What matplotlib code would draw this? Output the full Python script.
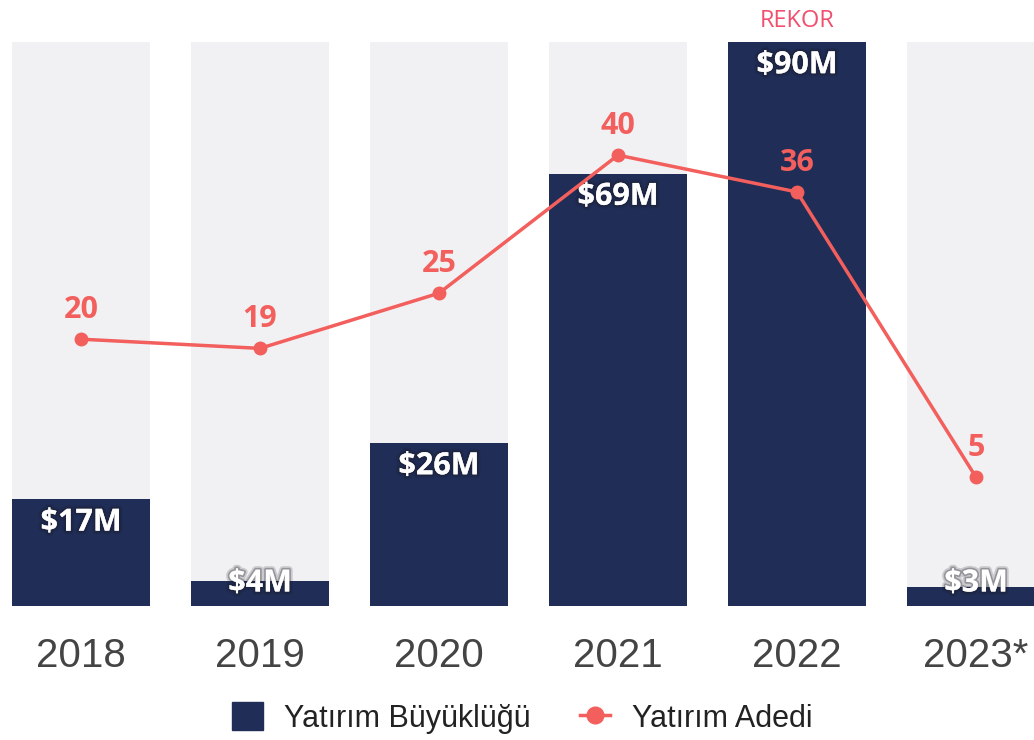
import numpy as np
import matplotlib
matplotlib.use("Agg")
import matplotlib.pyplot as plt
import matplotlib.patheffects as pe
from matplotlib.lines import Line2D
from matplotlib.patches import Patch

years = ["2018", "2019", "2020", "2021", "2022", "2023*"]
size_musd = [17, 4, 26, 69, 90, 3]
size_labels = ["$17M", "$4M", "$26M", "$69M", "$90M", "$3M"]
deal_count = [20, 19, 25, 40, 36, 5]

navy = "#1f2d57"
red = "#f25f5c"
bg_gray = "#f1f1f4"

fig = plt.figure(figsize=(10.34, 7.4), dpi=100)
ax = fig.add_axes([0, 134 / 740, 1, 564 / 740])
x = np.arange(len(years))
w = 138 / 179

ax.bar(x, [90] * len(x), width=w, color=bg_gray, zorder=1)
ax.bar(x, size_musd, width=w, color=navy, zorder=2)
ax.set_xlim(-81 / 179, (1034 - 81) / 179)
ax.set_ylim(0, 90)
ax.axis("off")

# soft dark halo behind the white labels
shadow = [pe.withStroke(linewidth=5, foreground=(0.1, 0.1, 0.15, 0.18)),
          pe.withStroke(linewidth=2.5, foreground=(0.1, 0.1, 0.15, 0.3))]
for xi, v, lab in zip(x, size_musd, size_labels):
    ax.text(xi, max(v - 3.7, 3.6), lab, ha="center", va="center",
            fontsize=22, fontweight="bold", family="Open Sans",
            color="white", zorder=5, path_effects=shadow)

for xi, lab in zip(x, years):
    ax.text(xi, -7.9, lab, ha="center", va="center", fontsize=29,
            family="Liberation Sans", color="#444444", clip_on=False)

ax.text(4, 93.3, "REKOR", ha="center", va="center", fontsize=17,
        family="Open Sans", color="#f0506e", clip_on=False)

ax2 = ax.twinx()
ax2.set_position(ax.get_position())
ax2.set_ylim(-9.0, 52.3)
ax2.axis("off")
ax2.plot(x, deal_count, color=red, lw=2.5, marker="o", ms=9, zorder=6)
for xi, c in zip(x, deal_count):
    ax2.text(xi, c + 3.2, str(c), ha="center", va="center", fontsize=22,
             fontweight="bold", family="Open Sans", color=red)

handles = [Patch(facecolor=navy, edgecolor=navy),
           Line2D([0], [0], color=red, lw=2.5, marker="o", ms=12)]
fig.legend(handles, ["Yatırım Büyüklüğü", "Yatırım Adedi"], loc="center",
           bbox_to_anchor=(0.505, 22 / 740), ncol=2, frameon=False,
           prop={"family": "Liberation Sans", "size": 22},
           handlelength=1.0, handleheight=1.0, columnspacing=1.6,
           handletextpad=0.7, labelcolor="#222222")

fig.savefig("out.png", dpi=100)
